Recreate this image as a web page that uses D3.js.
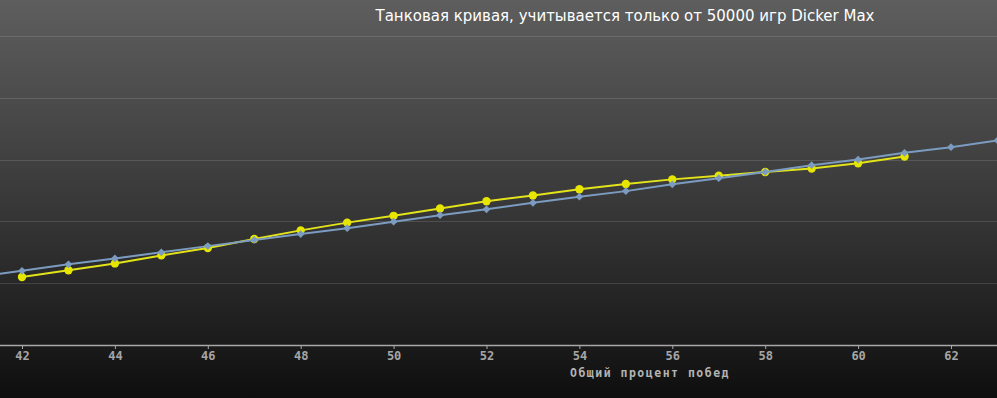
<!DOCTYPE html>
<html>
<head>
<meta charset="utf-8">
<script src="https://cdn.jsdelivr.net/npm/d3@7"></script>
<style>
  html, body { margin:0; padding:0; background:#111; }
  svg { display:block; font-family:"DejaVu Sans", Verdana, sans-serif; }
</style>
</head>
<body>
<svg id="chart" width="997" height="398"></svg>
<script>
// data (y in grid units, one unit per gridline)
const winRate = [41, 42, 43, 44, 45, 46, 47, 48, 49, 50, 51, 52, 53, 54, 55, 56, 57, 58, 59, 60, 61, 62, 63];
const blueCurve = [1.10, 1.20, 1.305, 1.40, 1.50, 1.60, 1.70, 1.795, 1.89, 1.995, 2.10, 2.195, 2.30, 2.40, 2.49, 2.60, 2.70, 2.80, 2.91, 3.00, 3.11, 3.20, 3.31];
const yellowX = [42, 43, 44, 45, 46, 47, 48, 49, 50, 51, 52, 53, 54, 55, 56, 57, 58, 59, 60, 61];
const yellowCurve = [1.10, 1.21, 1.32, 1.45, 1.57, 1.715, 1.855, 1.98, 2.09, 2.21, 2.325, 2.42, 2.52, 2.605, 2.68, 2.74, 2.80, 2.855, 2.94, 3.05];
const xTicks = [42, 44, 46, 48, 50, 52, 54, 56, 58, 60, 62];
const yGrid = [1, 2, 3, 4, 5];
const title = "Танковая кривая, учитывается только от 50000 игр Dicker Max";
const xTitle = "Общий процент побед";

const W = 997, H = 398;
const svg = d3.select('#chart');

// background gradient
const defs = svg.append('defs');
const grad = defs.append('linearGradient').attr('id','bg').attr('x1',0).attr('y1',0).attr('x2',0).attr('y2',1);
grad.append('stop').attr('offset','0%').attr('stop-color','#5e5e5e');
grad.append('stop').attr('offset','50%').attr('stop-color','#393939');
grad.append('stop').attr('offset','85%').attr('stop-color','#1c1c1c');
grad.append('stop').attr('offset','100%').attr('stop-color','#0e0e0e');
svg.append('rect').attr('width',W).attr('height',H).attr('fill','url(#bg)');

defs.append('clipPath').attr('id','plot').append('rect')
  .attr('x',0).attr('y',0).attr('width',W).attr('height',345);

const x = d3.scaleLinear().domain([42, 62]).range([22, 951]);
const y = d3.scaleLinear().domain([0, 5]).range([345, 36]);

// grid
svg.append('g').selectAll('line').data(yGrid).enter().append('line')
  .attr('x1',0).attr('x2',W)
  .attr('y1',d=>Math.round(y(d))+0.5).attr('y2',d=>Math.round(y(d))+0.5)
  .attr('stroke','#ffffff').attr('stroke-opacity',0.13).attr('stroke-width',1);

// x axis
const ax = svg.append('g').attr('transform','translate(0,345)')
  .call(d3.axisBottom(x).tickValues(xTicks).tickSize(4).tickPadding(2).tickFormat(d=>String(d)));
ax.select('.domain').attr('d',`M0,0.5H${W}`).attr('stroke','#a8a8a8').attr('stroke-width',1.5);
ax.selectAll('.tick line').attr('stroke','#a8a8a8');
ax.selectAll('.tick text').attr('fill','#a6a6a6').attr('font-size',12).attr('font-weight','bold')
  .attr('font-family','"DejaVu Sans Mono", monospace');

svg.append('text').attr('x',650).attr('y',377).attr('text-anchor','middle')
  .attr('fill','#b4b4b4').attr('font-size',11.5).attr('font-weight','bold')
  .attr('letter-spacing','1.5px').attr('font-family','"DejaVu Sans Mono", monospace')
  .text(xTitle);

svg.append('text').attr('x',625).attr('y',21).attr('text-anchor','middle')
  .attr('fill','#ffffff').attr('font-size',15).text(title);

const g = svg.append('g').attr('clip-path','url(#plot)');
const line = d3.line().x(d=>x(d[0])).y(d=>y(d[1]));

const yellowData = yellowX.map((v,i)=>[v, yellowCurve[i]]);
const blueData = winRate.map((v,i)=>[v, blueCurve[i]]);

// yellow series (circles)
g.append('path').datum(yellowData).attr('d',line)
  .attr('fill','none').attr('stroke','#e3e31a').attr('stroke-width',2);
g.selectAll('.ydot').data(yellowData).enter().append('circle')
  .attr('class','ydot')
  .attr('cx',d=>x(d[0])).attr('cy',d=>y(d[1])).attr('r',4.2)
  .attr('fill','#e6e600');

// blue series (diamonds = rotated squares)
g.append('path').datum(blueData).attr('d',line)
  .attr('fill','none').attr('stroke','#7b9cc0').attr('stroke-width',2);
g.selectAll('.bdot').data(blueData).enter().append('path')
  .attr('class','bdot')
  .attr('transform',d=>`translate(${x(d[0])},${y(d[1])}) rotate(45)`)
  .attr('d',d3.symbol().type(d3.symbolSquare).size(30))
  .attr('fill','#7b9cc0');
</script>
</body>
</html>
